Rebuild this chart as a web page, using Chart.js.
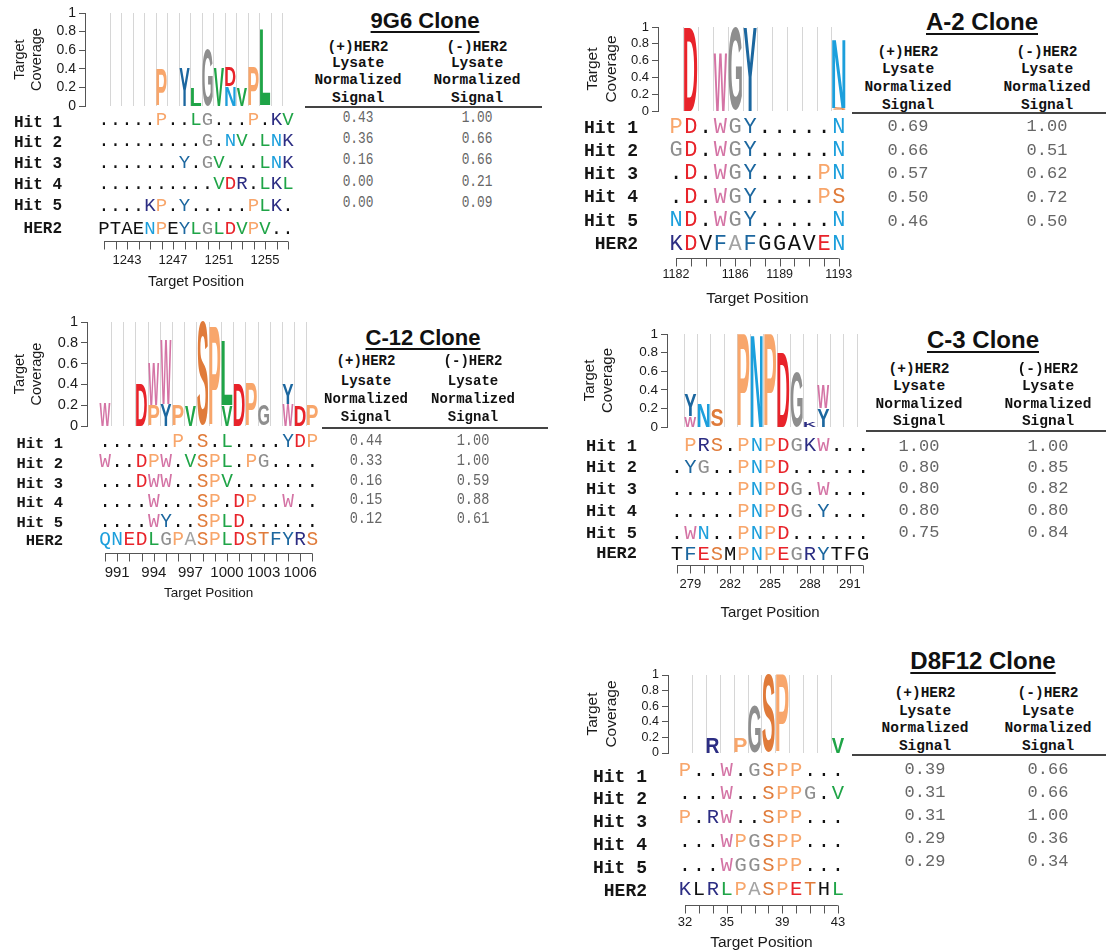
<!DOCTYPE html>
<html><head><meta charset="utf-8">
<script src="https://cdn.jsdelivr.net/npm/chart.js@4.4.1/dist/chart.umd.min.js"></script>
<style>
html,body{margin:0;padding:0;background:#fff;}
body{width:1106px;height:952px;position:relative;overflow:hidden;}
.abs{position:absolute;white-space:pre;line-height:1;}
.c{transform:translate(-50%,-50%);}
</style></head><body>
<script>
// ================= DATA =================
// ---- 9G6 clone ----
const g9_range = [1241, 1257];
const g9_ticks = [1243, 1247, 1251, 1255];
const g9_logoPos = [1246, 1248, 1249, 1250, 1251, 1252, 1252, 1253, 1254, 1255];
const g9_logoRes = ['P', 'Y', 'L', 'G', 'V', 'N', 'D', 'V', 'P', 'L'];
const g9_logoCov = [0.40, 0.42, 0.20, 0.61, 0.42, 0.21, 0.21, 0.20, 0.42, 0.82];
const g9_hits = ['.....P..LG...P.KV', '.........G.NV.LNK', '.......Y.GV...LNK', '..........VDR.LKL', '....KP.Y.....PLK.'];
const g9_her2 = 'PTAENPEYLGLDVPV..';
const g9_her2Match = '00001101111111100';
const g9_sigPos = [0.43, 0.36, 0.16, 0.00, 0.00];
const g9_sigNeg = [1.00, 0.66, 0.66, 0.21, 0.09];

// ---- A-2 clone ----
const a2_range = [1182, 1193];
const a2_ticks = [1182, 1186, 1189, 1193];
const a2_logoPos = [1183, 1185, 1186, 1187, 1193, 1193];
const a2_logoRes = ['D', 'W', 'G', 'Y', 'S', 'N'];
const a2_logoCov = [1.00, 0.69, 1.00, 1.00, 0.04, 0.82];
const a2_hits = ['PD.WGY.....N', 'GD.WGY.....N', '.D.WGY....PN', '.D.WGY....PS', 'ND.WGY.....N'];
const a2_her2 = 'KDVFAFGGAVEN';
const a2_her2Match = '110111000011';
const a2_sigPos = [0.69, 0.66, 0.57, 0.50, 0.46];
const a2_sigNeg = [1.00, 0.51, 0.62, 0.72, 0.50];

// ---- C-12 clone ----
const c12_range = [990, 1007];
const c12_ticks = [991, 994, 997, 1000, 1003, 1006];
const c12_logoPos = [990, 993, 994, 994, 995, 995, 996, 997, 998, 999, 1000, 1000, 1001, 1002, 1003, 1005, 1005, 1006, 1007];
const c12_logoRes = ['W', 'D', 'P', 'W', 'Y', 'W', 'P', 'V', 'S', 'P', 'V', 'L', 'D', 'P', 'G', 'W', 'Y', 'D', 'P'];
const c12_logoCov = [0.22, 0.41, 0.20, 0.41, 0.21, 0.61, 0.20, 0.20, 1.00, 0.95, 0.20, 0.61, 0.41, 0.41, 0.21, 0.21, 0.20, 0.20, 0.20];
const c12_hits = ['......P.S.L....YDP', 'W..DPW.VSPL.PG....', '...DWW..SPV.......', '....W...SP.DP..W..', '....WY..SPLD......'];
const c12_her2 = 'QNEDLGPASPLDSTFYRS';
const c12_her2Match = '111111111111111111';
const c12_sigPos = [0.44, 0.33, 0.16, 0.15, 0.12];
const c12_sigNeg = [1.00, 1.00, 0.59, 0.88, 0.61];

// ---- C-3 clone ----
const c3_range = [278, 292];
const c3_ticks = [279, 282, 285, 288, 291];
const c3_logoPos = [279, 279, 280, 281, 283, 284, 285, 286, 287, 288, 289, 289];
const c3_logoRes = ['W', 'Y', 'N', 'S', 'P', 'N', 'P', 'D', 'G', 'K', 'Y', 'W'];
const c3_logoCov = [0.12, 0.23, 0.25, 0.19, 1.00, 1.00, 1.00, 0.80, 0.60, 0.06, 0.20, 0.25];
const c3_hits = [' PRS.PNPDGKW...', '.YG..PNPD......', '.....PNPDG.W...', '.....PNPDG.Y...', '.WN..PNPD......'];
const c3_her2 = 'TFESMPNPEGRYTFG';
const c3_her2Match = '011101111111000';
const c3_sigPos = [1.00, 0.80, 0.80, 0.80, 0.75];
const c3_sigNeg = [1.00, 0.85, 0.82, 0.80, 0.84];

// ---- D8F12 clone ----
const d8_range = [32, 43];
const d8_ticks = [32, 35, 39, 43];
const d8_logoPos = [34, 36, 37, 38, 39, 43];
const d8_logoRes = ['R', 'P', 'G', 'S', 'P', 'V'];
const d8_logoCov = [0.20, 0.18, 0.61, 1.00, 1.00, 0.20];
const d8_hits = ['P..W.GSPP...', '...W..SPPG.V', 'P.RW..SPP...', '...WPGSPP...', '...WGGSPP...'];
const d8_her2 = 'KLRLPASPETHL';
const d8_her2Match = '101111111101';
const d8_sigPos = [0.39, 0.31, 0.31, 0.29, 0.29];
const d8_sigNeg = [0.66, 0.66, 1.00, 0.36, 0.34];

const rowLabels = ['Hit 1', 'Hit 2', 'Hit 3', 'Hit 4', 'Hit 5', 'HER2'];
const headPos = ['(+)HER2', 'Lysate', 'Normalized', 'Signal'];
const headNeg = ['(-)HER2', 'Lysate', 'Normalized', 'Signal'];

// ================= STYLE =================
const AA_COLORS = {
  P: '#F8A66B', S: '#E07B3A', T: '#E07B3A',
  D: '#E8232A', E: '#E8232A',
  N: '#1C9FDC', Q: '#1C9FDC',
  Y: '#1C679F', F: '#1C679F',
  K: '#2C2D83', R: '#2C2D83',
  L: '#1FA447', V: '#1FA447', I: '#1FA447',
  G: '#8E8E8E', A: '#A3A3A3',
  W: '#D474A5'
};
const colorOf = ch => AA_COLORS[ch] || '#111';
const MONO = '"Liberation Mono", "DejaVu Sans Mono", monospace';
const SANS = '"Liberation Sans", Arial, Helvetica, sans-serif';

const panels = [
  {id: 'g9', range: g9_range, ticks: g9_ticks, logoPos: g9_logoPos, logoRes: g9_logoRes, logoCov: g9_logoCov,
   hits: g9_hits, her2: g9_her2, match: g9_her2Match,
   L: {left: 0, top: 0, w: 300, h: 300, axisX: 85, y1: 13, y0: 106, c0: 104, s: 11.5,
       labelRight: 62, labelY: [122, 142, 163, 184, 205, 228], seqY: [119, 140, 162, 183, 205, 228],
       axisY: 241, tickLen: 8, tickLabelY: 260, titleY: 282,
       seqSize: 19, labSize: 16, tickSize: 13, xTitleSize: 14.5, yTickSize: 14, yTitleSize: 14.5, yTitleX: 20}},
  {id: 'a2', range: a2_range, ticks: a2_ticks, logoPos: a2_logoPos, logoRes: a2_logoRes, logoCov: a2_logoCov,
   hits: a2_hits, her2: a2_her2, match: a2_her2Match,
   L: {left: 570, top: 0, w: 285, h: 310, axisX: 658, y1: 27, y0: 111, c0: 676, s: 14.8,
       labelRight: 638, labelY: [127, 150, 173, 196, 220, 243], seqY: [126, 149, 172, 196, 219, 243],
       axisY: 258, tickLen: 8, tickLabelY: 275, titleY: 299,
       seqSize: 22, labSize: 18, tickSize: 12.5, xTitleSize: 15.5, yTickSize: 13, yTitleSize: 15.5, yTitleX: 593}},
  {id: 'c12', range: c12_range, ticks: c12_ticks, logoPos: c12_logoPos, logoRes: c12_logoRes, logoCov: c12_logoCov,
   hits: c12_hits, her2: c12_her2, match: c12_her2Match,
   L: {left: 0, top: 310, w: 325, h: 300, axisX: 87, y1: 322, y0: 426, c0: 105, s: 12.2,
       labelRight: 63, labelY: [443, 463, 483, 502, 522, 540], seqY: [441, 461, 481, 501, 521, 539],
       axisY: 553, tickLen: 8, tickLabelY: 573, titleY: 593,
       seqSize: 19.5, labSize: 15.5, tickSize: 15, xTitleSize: 13.5, yTickSize: 14.5, yTitleSize: 14.5, yTitleX: 20}},
  {id: 'c3', range: c3_range, ticks: c3_ticks, logoPos: c3_logoPos, logoRes: c3_logoRes, logoCov: c3_logoCov,
   hits: c3_hits, her2: c3_her2, match: c3_her2Match,
   L: {left: 575, top: 320, w: 302, h: 300, axisX: 667, y1: 334, y0: 427, c0: 677, s: 13.3,
       labelRight: 637, labelY: [446, 467, 489, 511, 533, 553], seqY: [444, 466, 488, 510, 532, 553],
       axisY: 565, tickLen: 8, tickLabelY: 584, titleY: 613,
       seqSize: 20.5, labSize: 17, tickSize: 13, xTitleSize: 15, yTickSize: 13.5, yTitleSize: 15, yTitleX: 590}},
  {id: 'd8', range: d8_range, ticks: d8_ticks, logoPos: d8_logoPos, logoRes: d8_logoRes, logoCov: d8_logoCov,
   hits: d8_hits, her2: d8_her2, match: d8_her2Match,
   L: {left: 575, top: 660, w: 280, h: 292, axisX: 668, y1: 675, y0: 753, c0: 685, s: 13.9,
       labelRight: 647, labelY: [776, 798, 821, 844, 867, 890], seqY: [769, 792, 816, 840, 864, 888],
       axisY: 905, tickLen: 8, tickLabelY: 922, titleY: 943,
       seqSize: 20.5, labSize: 18, tickSize: 13, xTitleSize: 15.5, yTickSize: 12.5, yTitleSize: 15.5, yTitleX: 593}}
];

const tables = [
  {title: '9G6 Clone', pos: g9_sigPos, neg: g9_sigNeg,
   T: {titleX: 425, titleY: 21, titleSize: 22, cols: [358, 477], headY: [47, 63, 80, 98], headSize: 14.5,
       lineY: 107, lineX: [305, 542], valY: [118, 139, 160, 182, 203], valSize: 16, valScale: 0.8}},
  {title: 'A-2 Clone', pos: a2_sigPos, neg: a2_sigNeg,
   T: {titleX: 982, titleY: 22, titleSize: 24, cols: [908, 1047], headY: [52, 69, 87, 105], headSize: 14.5,
       lineY: 113, lineX: [852, 1106], valY: [126, 150, 173, 197, 221], valSize: 17, valScale: 1}},
  {title: 'C-12 Clone', pos: c12_sigPos, neg: c12_sigNeg,
   T: {titleX: 423, titleY: 338, titleSize: 22, cols: [366, 473], headY: [361, 381, 399, 417], headSize: 14,
       lineY: 428, lineX: [322, 548], valY: [441, 461, 481, 500, 519], valSize: 16, valScale: 0.85}},
  {title: 'C-3 Clone', pos: c3_sigPos, neg: c3_sigNeg,
   T: {titleX: 983, titleY: 340, titleSize: 24, cols: [919, 1048], headY: [369, 386, 404, 421], headSize: 14.5,
       lineY: 431, lineX: [866, 1106], valY: [446, 467, 488, 510, 532], valSize: 17, valScale: 1}},
  {title: 'D8F12 Clone', pos: d8_sigPos, neg: d8_sigNeg,
   T: {titleX: 983, titleY: 661, titleSize: 24, cols: [925, 1048], headY: [693, 711, 728, 746], headSize: 14.5,
       lineY: 755, lineX: [852, 1106], valY: [769, 792, 815, 838, 861], valSize: 17, valScale: 1}}
];

// ================= DRAWING =================
function drawGlyph(ctx, ch, color, left, top, w, h) {
  if (h <= 0.5 || w <= 0) return;
  ctx.save();
  ctx.font = 'bold 100px ' + SANS;
  ctx.textAlign = 'left';
  ctx.textBaseline = 'alphabetic';
  const m = ctx.measureText(ch);
  const gw = m.actualBoundingBoxLeft + m.actualBoundingBoxRight;
  const gh = m.actualBoundingBoxAscent + m.actualBoundingBoxDescent;
  ctx.translate(left, top);
  ctx.scale(w / gw, h / gh);
  ctx.fillStyle = color;
  ctx.fillText(ch, m.actualBoundingBoxLeft, m.actualBoundingBoxAscent);
  ctx.restore();
}

function makePanel(p) {
  const L = p.L;
  const first = p.range[0], last = p.range[1];
  const canvas = document.createElement('canvas');
  canvas.width = L.w; canvas.height = L.h;
  canvas.style.cssText = `position:absolute;left:${L.left}px;top:${L.top}px;width:${L.w}px;height:${L.h}px;`;
  document.body.appendChild(canvas);
  const xMin = first - (L.c0 - L.axisX) / L.s;
  const xMax = first + (L.left + L.w - L.c0) / L.s;
  const stackBase = {};
  const barData = p.logoPos.map((pos, i) => {
    const b = stackBase[pos] || 0;
    stackBase[pos] = b + p.logoCov[i];
    return {x: pos, y: [b, b + p.logoCov[i]]};
  });
  const plugin = {
    id: 'logo_' + p.id,
    beforeDatasetsDraw(chart) {
      const ctx = chart.ctx, xs = chart.scales.x, ys = chart.scales.y;
      ctx.save();
      ctx.strokeStyle = '#d6d6d6'; ctx.lineWidth = 1;
      for (let v = first; v < last; v++) {
        const x = Math.round(xs.getPixelForValue(v + 0.5)) + 0.5;
        ctx.beginPath(); ctx.moveTo(x, ys.getPixelForValue(1)); ctx.lineTo(x, ys.getPixelForValue(0)); ctx.stroke();
      }
      ctx.restore();
    },
    afterDatasetsDraw(chart) {
      const ctx = chart.ctx;
      const meta = chart.getDatasetMeta(0);
      meta.data.forEach((el, i) => {
        const {x, y, base, width} = el.getProps(['x', 'y', 'base', 'width'], true);
        const ch = p.logoRes[i];
        drawGlyph(ctx, ch, colorOf(ch), x - width / 2, Math.min(y, base), width, Math.abs(base - y));
      });
    },
    afterDraw(chart) {
      const ctx = chart.ctx, xs = chart.scales.x;
      const oy = L.top, ox = L.left;
      ctx.save();
      // row labels
      ctx.fillStyle = '#151515';
      ctx.textAlign = 'right'; ctx.textBaseline = 'middle';
      ctx.font = `bold ${L.labSize}px ${MONO}`;
      rowLabels.forEach((t, r) => ctx.fillText(t, L.labelRight - ox, L.labelY[r] - oy + 1));
      // sequences
      ctx.textAlign = 'center'; ctx.textBaseline = 'alphabetic';
      ctx.font = `${L.seqSize}px ${MONO}`;
      const cap = L.seqSize * 0.33;
      const rows = p.hits.concat([p.her2]);
      rows.forEach((seq, r) => {
        const isHer2 = r === rows.length - 1;
        for (let i = 0; i < seq.length; i++) {
          const ch = seq[i];
          if (ch === ' ') continue;
          let col = '#111';
          if (ch !== '.') col = isHer2 ? (p.match[i] === '1' ? colorOf(ch) : '#111') : colorOf(ch);
          ctx.fillStyle = col;
          ctx.fillText(ch, xs.getPixelForValue(first + i), L.seqY[r] - oy + cap);
        }
      });
      // x axis
      ctx.strokeStyle = '#555'; ctx.lineWidth = 1;
      const ay = Math.round(L.axisY - oy) + 0.5;
      ctx.beginPath();
      ctx.moveTo(xs.getPixelForValue(first), ay); ctx.lineTo(xs.getPixelForValue(last), ay);
      for (let v = first; v <= last; v++) {
        const x = Math.round(xs.getPixelForValue(v)) + 0.5;
        ctx.moveTo(x, ay); ctx.lineTo(x, ay + L.tickLen);
      }
      ctx.stroke();
      ctx.fillStyle = '#1a1a1a';
      ctx.textBaseline = 'middle'; ctx.textAlign = 'center';
      ctx.font = `${L.tickSize}px ${SANS}`;
      p.ticks.forEach(v => ctx.fillText(String(v), xs.getPixelForValue(v), L.tickLabelY - oy));
      ctx.font = `${L.xTitleSize}px ${SANS}`;
      ctx.fillText('Target Position', (xs.getPixelForValue(first) + xs.getPixelForValue(last)) / 2, L.titleY - oy);
      ctx.restore();
    }
  };
  const lineH = L.yTitleSize * 1.2;
  new Chart(canvas, {
    type: 'bar',
    data: {datasets: [{data: barData, backgroundColor: 'rgba(0,0,0,0)', borderWidth: 0, barPercentage: 0.9, categoryPercentage: 1, grouped: false}]},
    options: {
      responsive: false, animation: false, maintainAspectRatio: false,
      events: [],
      layout: {padding: {left: 0, right: 0, top: L.y1 - L.top, bottom: L.top + L.h - L.y0}},
      plugins: {legend: {display: false}, tooltip: {enabled: false}},
      scales: {
        x: {type: 'linear', display: false, min: xMin, max: xMax, offset: false},
        y: {
          min: 0, max: 1,
          afterFit: s => { s.width = L.axisX - L.left; },
          ticks: {stepSize: 0.2, autoSkip: false, padding: 3, color: '#1a1a1a', font: {family: SANS, size: L.yTickSize},
                  callback: v => (Math.abs(v) < 1e-9 ? '0' : Math.abs(v - 1) < 1e-9 ? '1' : v.toFixed(1))},
          grid: {drawOnChartArea: false, drawTicks: true, tickLength: 6, color: '#555'},
          border: {display: true, color: '#555', width: 1},
          title: {display: true, text: ['Target', 'Coverage'], color: '#1a1a1a',
                  font: {family: SANS, size: L.yTitleSize, lineHeight: 1.2},
                  padding: {top: L.yTitleX - L.left - lineH / 2, bottom: 0}}
        }
      }
    },
    plugins: [plugin]
  });
}

function addText(txt, x, y, css) {
  const d = document.createElement('div');
  d.className = 'abs c';
  d.textContent = txt;
  d.style.cssText += `left:${x}px;top:${y}px;` + css;
  document.body.appendChild(d);
  return d;
}

function makeTable(t) {
  const T = t.T;
  addText(t.title, T.titleX, T.titleY,
    `font:bold ${T.titleSize}px ${SANS};color:#111;text-decoration:underline;text-decoration-thickness:2px;text-underline-offset:3px;`);
  [headPos, headNeg].forEach((hd, c) => hd.forEach((h, r) =>
    addText(h, T.cols[c], T.headY[r], `font:bold ${T.headSize}px ${MONO};color:#111;`)));
  const line = document.createElement('div');
  line.className = 'abs';
  line.style.cssText += `left:${T.lineX[0]}px;top:${T.lineY - 1}px;width:${T.lineX[1] - T.lineX[0]}px;height:2px;background:#444;`;
  document.body.appendChild(line);
  [t.pos, t.neg].forEach((vals, c) => vals.forEach((v, r) =>
    addText(v.toFixed(2), T.cols[c], T.valY[r],
      `font:${T.valSize}px ${MONO};color:#666;transform:translate(-50%,-50%) scaleX(${T.valScale});`)));
}

panels.forEach(makePanel);
tables.forEach(makeTable);
</script>
</body></html>
